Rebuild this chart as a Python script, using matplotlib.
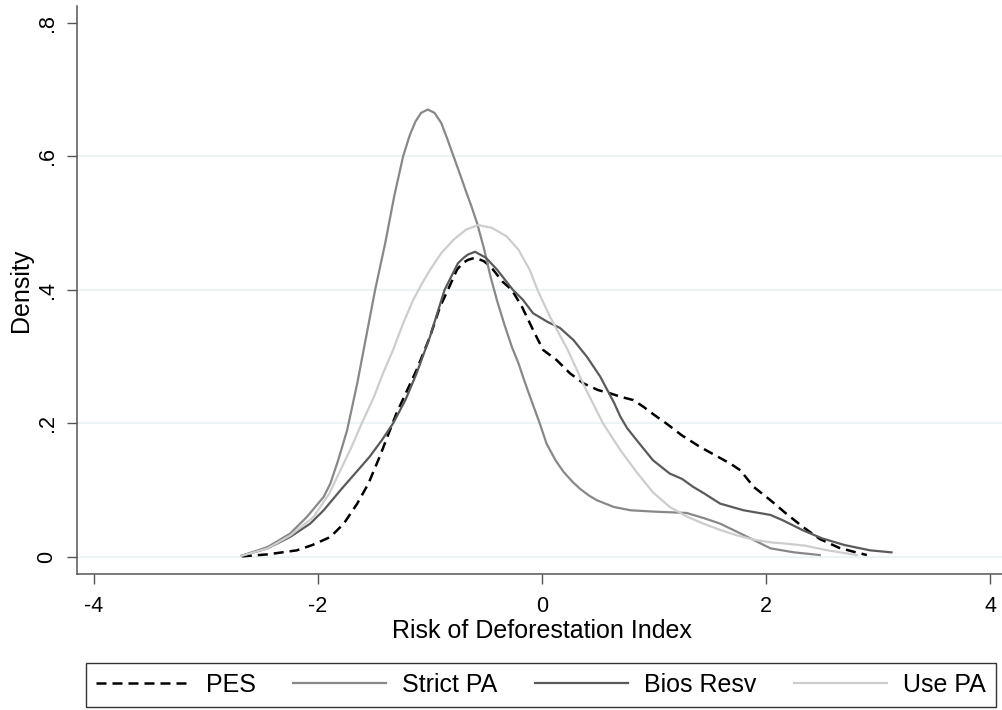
import matplotlib
matplotlib.use('Agg')
import matplotlib.pyplot as plt

plt.rcParams['font.family'] = ['Liberation Sans', 'DejaVu Sans']

# density curves
pes_x = [-2.68, -2.45, -2.19, -2.05, -1.89, -1.77, -1.65, -1.55, -1.45, -1.30, -1.12, -1.00, -0.91, -0.84,
         -0.76, -0.71, -0.66, -0.62, -0.58, -0.52, -0.46, -0.35, -0.27, -0.18, -0.08, 0.01, 0.13, 0.25, 0.37,
         0.50, 0.61, 0.70, 0.815, 0.905, 1.00, 1.11, 1.25, 1.41, 1.55, 1.68, 1.77, 1.89, 2.04, 2.18, 2.33,
         2.48, 2.65, 2.78, 2.90]
pes_y = [0.001, 0.004, 0.010, 0.018, 0.030, 0.050, 0.080, 0.110, 0.150, 0.215, 0.280, 0.330, 0.375, 0.400,
         0.430, 0.440, 0.445, 0.447, 0.447, 0.443, 0.435, 0.412, 0.400, 0.375, 0.340, 0.310, 0.295, 0.275, 0.260,
         0.250, 0.245, 0.240, 0.235, 0.225, 0.213, 0.200, 0.182, 0.165, 0.152, 0.140, 0.130, 0.105, 0.085,
         0.065, 0.045, 0.027, 0.014, 0.008, 0.003]

strict_x = [-2.68, -2.45, -2.25, -2.10, -1.95, -1.89, -1.82, -1.74, -1.65, -1.57, -1.49, -1.40, -1.32, -1.24,
            -1.18, -1.13, -1.08, -1.02, -0.96, -0.90, -0.85, -0.79, -0.73, -0.68, -0.63, -0.58, -0.52, -0.46,
            -0.40, -0.33, -0.27, -0.21, -0.16, -0.107, -0.02, 0.04, 0.12, 0.19, 0.27, 0.34, 0.42, 0.49, 0.64,
            0.79, 1.00, 1.29, 1.45, 1.59, 1.80, 2.04, 2.25, 2.48]
strict_y = [0.002, 0.015, 0.035, 0.060, 0.090, 0.110, 0.145, 0.190, 0.260, 0.330, 0.400, 0.470, 0.540, 0.600,
            0.632, 0.652, 0.665, 0.670, 0.665, 0.650, 0.628, 0.600, 0.572, 0.548, 0.525, 0.500, 0.463, 0.420,
            0.383, 0.345, 0.315, 0.290, 0.265, 0.240, 0.200, 0.170, 0.145, 0.128, 0.113, 0.102, 0.092, 0.085,
            0.075, 0.070, 0.068, 0.066, 0.058, 0.050, 0.033, 0.013, 0.007, 0.003]

bios_x = [-2.68, -2.45, -2.25, -2.07, -1.95, -1.80, -1.67, -1.54, -1.43, -1.33, -1.22, -1.12, -1.00, -0.87,
          -0.75, -0.70, -0.66, -0.598, -0.50, -0.40, -0.26, -0.17, -0.08, 0.05, 0.16, 0.28, 0.40, 0.52, 0.64,
          0.70, 0.76, 0.845, 0.99, 1.14, 1.25, 1.35, 1.45, 1.59, 1.80, 2.04, 2.15, 2.33, 2.50, 2.70, 2.93, 3.12]
bios_y = [0.002, 0.013, 0.030, 0.050, 0.070, 0.100, 0.125, 0.150, 0.175, 0.200, 0.235, 0.275, 0.330, 0.400,
          0.440, 0.448, 0.453, 0.457, 0.448, 0.430, 0.400, 0.385, 0.365, 0.352, 0.343, 0.325, 0.300, 0.270, 0.232,
          0.210, 0.193, 0.175, 0.145, 0.125, 0.117, 0.105, 0.095, 0.080, 0.070, 0.063, 0.055, 0.040, 0.028,
          0.018, 0.010, 0.007]

use_x = [-2.68, -2.45, -2.25, -2.04, -1.90, -1.80, -1.70, -1.61, -1.50, -1.42, -1.33, -1.24, -1.15, -1.07,
         -1.00, -0.90, -0.79, -0.68, -0.569, -0.45, -0.315, -0.21, -0.11, -0.04, 0.07, 0.15, 0.23, 0.38, 0.545,
         0.70, 0.845, 0.99, 1.14, 1.30, 1.44, 1.60, 1.75, 1.89, 2.04, 2.18, 2.35, 2.55, 2.81]
use_y = [0.002, 0.013, 0.032, 0.060, 0.095, 0.130, 0.165, 0.200, 0.240, 0.275, 0.310, 0.350, 0.385, 0.410,
         0.430, 0.455, 0.475, 0.490, 0.497, 0.493, 0.480, 0.460, 0.430, 0.400, 0.360, 0.335, 0.310, 0.255, 0.200,
         0.160, 0.127, 0.097, 0.075, 0.060, 0.050, 0.040, 0.032, 0.026, 0.022, 0.020, 0.017, 0.010, 0.003]

xticks = [-4, -2, 0, 2, 4]
xtick_labels = ['-4', '-2', '0', '2', '4']
yticks = [0, 0.2, 0.4, 0.6, 0.8]
ytick_labels = ['0', '.2', '.4', '.6', '.8']
grid_vals = [0, 0.2, 0.4, 0.6]

fig = plt.figure(figsize=(10.02, 7.10), dpi=100)
ax = fig.add_axes([77/1002, 1 - 574/710, 925/1002, 568/710])

for g in grid_vals:
    ax.axhline(g, color='#eaf2f3', lw=1.3, zorder=0)

ax.plot(pes_x, pes_y, color='black', lw=1.8, ls=(0, (4, 2.4)), label='PES')
ax.plot(strict_x, strict_y, color='#888888', lw=1.6, label='Strict PA')
ax.plot(bios_x, bios_y, color='#5a5a5a', lw=1.6, label='Bios Resv')
ax.plot(use_x, use_y, color='#cdcdcd', lw=1.6, label='Use PA')

ax.set_xlim(-4.152, 4.107)
ax.set_ylim(-0.0254, 0.825)
ax.set_xticks(xticks)
ax.set_xticklabels(xtick_labels)
ax.set_yticks(yticks)
ax.set_yticklabels(ytick_labels, rotation=90, va='center')

for s in ['top', 'right']:
    ax.spines[s].set_visible(False)
for s in ['left', 'bottom']:
    ax.spines[s].set_color('#555555')
    ax.spines[s].set_linewidth(1.1)

ax.tick_params(axis='both', length=7.5, width=1.0, color='#555555', labelsize=15.5)
ax.tick_params(axis='x', pad=8)
ax.tick_params(axis='y', pad=6.5)

ax.set_xlabel('Risk of Deforestation Index', fontsize=18)
ax.xaxis.set_label_coords(0.503, -0.079)
ax.set_ylabel('Density', fontsize=18)
ax.yaxis.set_label_coords(-0.0476, 0.5)

leg = fig.legend(loc='center', ncol=4, fontsize=18, mode='expand',
                 bbox_to_anchor=(86/1002, 1 - 709/710, 910/1002, 48/710),
                 handlelength=3.75, handletextpad=0.64, borderpad=0.4,
                 frameon=True, fancybox=False, edgecolor='black', borderaxespad=0)
leg.get_frame().set_linewidth(1.0)

fig.savefig('out.png', dpi=100)
